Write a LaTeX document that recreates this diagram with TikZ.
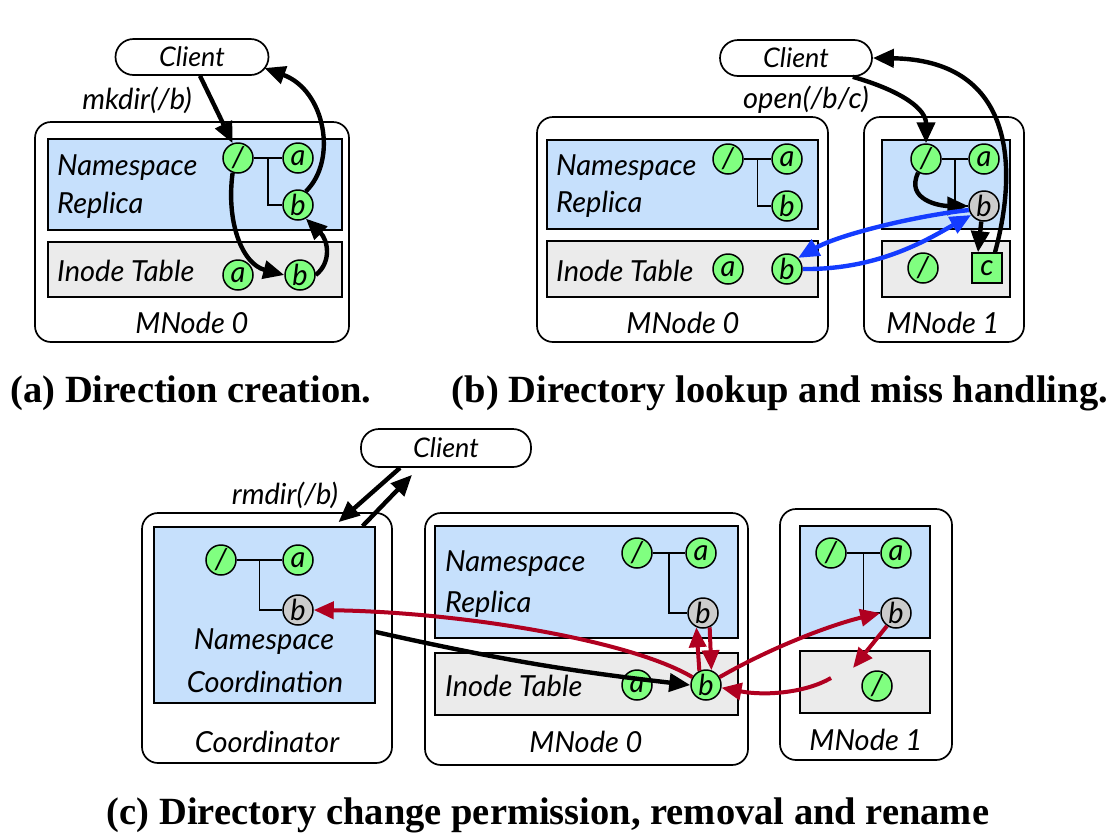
\documentclass[tikz,border=0pt]{standalone}
\usepackage{fontspec}
\setmainfont{Liberation Serif}
\newfontfamily\gill{Lato}
\usetikzlibrary{arrows.meta,calc}
\definecolor{nsblue}{RGB}{198,224,252}
\definecolor{itgray}{RGB}{235,235,235}
\definecolor{cgreen}{RGB}{128,255,128}
\definecolor{cgray}{RGB}{204,204,204}
\definecolor{rred}{RGB}{176,0,32}
\definecolor{bblue}{RGB}{20,60,255}
\tikzset{
  lbl/.style={font=\gill\itshape\fontsize{29}{32}\selectfont, inner sep=0pt},
  captxt/.style={font=\bfseries\fontsize{38.5}{42}\selectfont, inner sep=0pt},
  pill/.style={draw, line width=1.7pt, rounded corners=18pt, fill=white, font=\gill\itshape\fontsize{27}{30}\selectfont, inner sep=0pt},
  outer/.style={draw, line width=1.7pt, rounded corners=16pt, fill=white, inner sep=0pt},
  nsbox/.style={draw, line width=1.7pt, fill=nsblue, inner sep=0pt},
  itbox/.style={draw, line width=1.7pt, fill=itgray, inner sep=0pt},
  circ/.style={circle, draw, line width=1.5pt, fill=cgreen, minimum size=30pt, inner sep=0pt, font=\gill\itshape\fontsize{29}{29}\selectfont},
  gcirc/.style={circ, fill=cgray},
  sq/.style={rectangle, draw, line width=1.5pt, fill=cgreen, minimum size=30pt, inner sep=0pt, font=\gill\itshape\fontsize{29}{29}\selectfont},
  tree/.style={line width=1.5pt},
  arr/.style={line width=4.4pt, -{Triangle[length=21pt,width=18pt]}},
  barr/.style={arr, draw=bblue},
  rarr/.style={line width=4pt, draw=rred, -{Triangle[length=20pt,width=17pt]}},
}
\begin{document}
\begin{tikzpicture}[x=1pt,y=-1pt]
\useasboundingbox (0,0) rectangle (1115,839);
% ---------- (a) ----------
\node[outer, minimum width=314pt, minimum height=220pt] (aout) at (192,232) {};
\node[nsbox, minimum width=294pt, minimum height=91pt] (ans) at (195,184.5) {};
\node[itbox, minimum width=294pt, minimum height=55pt] (ait) at (195,269.5) {};
\node[lbl, anchor=west] (antx1) at (57,168) {Namespace};
\node[lbl, anchor=west] (antx2) at (57,205) {Replica};
\node[lbl, anchor=west] (aittx) at (57,271) {Inode Table};
\node[lbl] (aname) at (192,323) {MNode 0};
\node[pill, minimum width=153pt, minimum height=36pt] (ac) at (192,57) {Client};
\node[lbl] (aop) at (137,100) {mkdir(/b)};
\node[circ] (as) at (238,158) {/};
\node[circ] (aa) at (298,158) {a};
\node[circ] (ab) at (298,205) {b};
\draw[tree] (as.east) -- (aa.west);
\draw[tree] ($(as.east)!0.5!(aa.west)$) |- (ab.west);
\node[circ] (aia) at (238,275) {a};
\node[circ] (aib) at (300,275) {b};
\draw[arr] ($(ac.south)+(8,0)$) -- (as.110);
\draw[arr] (as.250) .. controls (226,222) and (242,264) .. (aib.west);
\draw[arr] (aib.east) .. controls (332,262) and (328,240) .. (ab.300);
\draw[arr] (ab.60) .. controls (338,160) and (325,90) .. ($(ac.east)+(-5,11)$);
% ---------- (b) ----------
\node[outer, minimum width=291pt, minimum height=225pt] (bout0) at (682.5,229.5) {};
\node[nsbox, minimum width=271pt, minimum height=89pt] (bns0) at (682.5,184.5) {};
\node[itbox, minimum width=271pt, minimum height=56pt] (bit0) at (682.5,269) {};
\node[lbl, anchor=west] (bntx1) at (556,168) {Namespace};
\node[lbl, anchor=west] (bntx2) at (556,204) {Replica};
\node[lbl, anchor=west] (bittx) at (556,271) {Inode Table};
\node[lbl] (bname0) at (683,323) {MNode 0};
\node[circ] (bs) at (728,159) {/};
\node[circ] (ba) at (787,159) {a};
\node[circ] (bb) at (787,206) {b};
\draw[tree] (bs.east) -- (ba.west);
\draw[tree] ($(bs.east)!0.5!(ba.west)$) |- (bb.west);
\node[circ] (bia) at (728,269) {a};
\node[circ] (bib) at (787,269) {b};
\node[outer, minimum width=160pt, minimum height=225pt] (bout1) at (944,229.5) {};
\node[nsbox, minimum width=128pt, minimum height=89pt] (bns1) at (946,184.5) {};
\node[itbox, minimum width=128pt, minimum height=56pt] (bit1) at (946,269) {};
\node[lbl] (bname1) at (943,323) {MNode 1};
\node[circ] (bs1) at (926,159) {/};
\node[circ] (ba1) at (984,159) {a};
\node[gcirc] (bb1) at (984,206) {b};
\draw[tree] (bs1.east) -- (ba1.west);
\draw[tree] ($(bs1.east)!0.5!(ba1.west)$) |- (bb1.west);
\node[circ] (bi1) at (923,268) {/};
\node[sq] (bc) at (987,268) {c};
\node[pill, minimum width=152pt, minimum height=36pt] (bcl) at (796,58) {Client};
\node[lbl] (bop) at (806,100) {open(/b/c)};
\draw[arr] ($(bcl.south east)+(-20,0)$) .. controls (905,92) and (926,110) .. (bs1.north);
\draw[arr] ($(bc.north)+(8,0)$) .. controls (1020,160) and (1010,60) .. (bcl.east);
\draw[arr] (bs1.240) .. controls (905,200) and (940,206) .. (bb1.west);
\draw[arr] (bb1.260) -- ($(bc.north)+(-9,0)$);
\draw[barr] (bb1.195) .. controls (920,215) and (840,234) .. (bib.north east);
\draw[barr] (bib.east) .. controls (880,270) and (930,238) .. (bb1.215);
% ---------- (c) ----------
\node[outer, minimum width=250pt, minimum height=250pt] (cout) at (267,638) {};
\node[nsbox, minimum width=221pt, minimum height=176pt] (cns) at (264.5,615) {};
\node[lbl] (cntx1) at (264,642) {Namespace};
\node[lbl] (cntx2) at (265,682) {Coordination};
\node[lbl] (cname) at (267,742) {Coordinator};
\node[circ] (cs) at (221,560) {/};
\node[circ] (ca) at (298,560) {a};
\node[gcirc] (cb) at (298,610) {b};
\draw[tree] (cs.east) -- (ca.west);
\draw[tree] ($(cs.east)!0.5!(ca.west)$) |- (cb.west);
\node[outer, minimum width=323pt, minimum height=252pt] (cout0) at (586.5,639) {};
\node[nsbox, minimum width=303pt, minimum height=112pt] (cns0) at (586.5,582) {};
\node[itbox, minimum width=303pt, minimum height=62pt] (cit0) at (586.5,684) {};
\node[lbl, anchor=west] (c0tx1) at (445,564) {Namespace};
\node[lbl, anchor=west] (c0tx2) at (445,604) {Replica};
\node[lbl, anchor=west] (c0ittx) at (445,686) {Inode Table};
\node[lbl] (cname0) at (586,742) {MNode 0};
\node[circ] (c0s) at (637,553) {/};
\node[circ] (c0a) at (701,553) {a};
\node[gcirc] (c0b) at (703,613) {b};
\draw[tree] (c0s.east) -- (c0a.west);
\draw[tree] ($(c0s.east)!0.5!(c0a.west)$) |- (c0b.west);
\node[circ] (c0ia) at (637,685) {a};
\node[circ] (c0ib) at (706,685) {b};
\node[outer, minimum width=172pt, minimum height=251pt] (cout1) at (866,634.5) {};
\node[nsbox, minimum width=130pt, minimum height=112pt] (cns1) at (865,582) {};
\node[itbox, minimum width=130pt, minimum height=62pt] (cit1) at (865,682) {};
\node[lbl] (cname1) at (866,740) {MNode 1};
\node[circ] (c1s) at (831,553) {/};
\node[circ] (c1a) at (896,553) {a};
\node[gcirc] (c1b) at (896,613) {b};
\draw[tree] (c1s.east) -- (c1a.west);
\draw[tree] ($(c1s.east)!0.5!(c1a.west)$) |- (c1b.west);
\node[circ] (c1i) at (877,686) {/};
\node[pill, minimum width=170pt, minimum height=38pt] (ccl) at (446,448) {Client};
\node[lbl] (cop) at (285,495) {rmdir(/b)};
\draw[arr] ($(ccl.south)+(-46,0)$) -- ($(cns.north)+(74,-4)$);
\draw[arr] ($(cns.north)+(98,0)$) -- ($(ccl.south)+(-34,7)$);
\coordinate (cblk) at ($(cns.east)+(0,17)$);
\draw[arr] (cblk) to[bend right=3] (c0ib.west);
\draw[rarr] (c0ib.150) .. controls (630,640) and (460,612) .. (cb.east);
\draw[rarr] (c0ib.115) -- (c0b.245);
\draw[rarr] (c0b.295) -- (c0ib.70);
\draw[rarr] (c0ib.30) .. controls (770,648) and (830,625) .. (c1b.west);
\coordinate (cdel) at (853,668);
\draw[rarr] (c1b.235) -- (cdel);
\coordinate (cmv) at (831,678);
\draw[rarr] (cmv) .. controls (805,693) and (765,696) .. (c0ib.-10);
% ---------- captions ----------
\node[captxt] (capa) at (191,393) {(a) Direction creation.};
\node[captxt] (capb) at (780,393) {(b) Directory lookup and miss handling.};
\node[captxt] (capc) at (548,815) {(c) Directory change permission, removal and rename};
\end{tikzpicture}
\end{document}
